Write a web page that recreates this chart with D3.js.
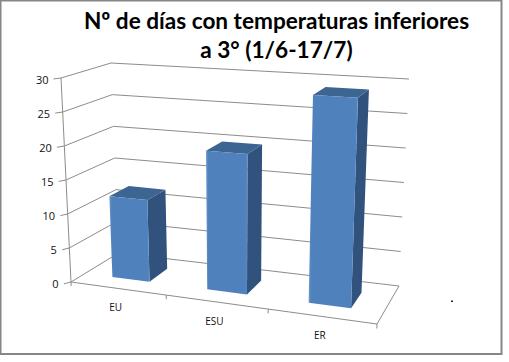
<!doctype html>
<html lang="es">
<head>
<meta charset="utf-8">
<title>Nº de días</title>
<script src="https://d3js.org/d3.v7.min.js"></script>
<style>
    html, body { margin: 0; padding: 0; background: #fff; }
    svg { display: block; }
</style>
</head>
<body>
<svg id="chart"></svg>
<script>
    // data
    const titleLines = ["Nº de días con temperaturas inferiores", "a 3° (1/6-17/7)"];
    const categories = ["EU", "ESU", "ER"];
    const values = [12, 20, 29];
    const valueTicks = [0, 5, 10, 15, 20, 25, 30];

    const wtot = 509, htot = 362;
    const svg = d3.select("#chart").attr("width", wtot).attr("height", htot);

    // corners of the 3d box on screen: front-left, front-right, back-right, back-left
    const floorQuad = [[71, 282], [377, 324], [399, 286], [118.5, 253]];
    const roofQuad = [[61, 78], [385.7, 98.5], [409, 79], [111, 63]];

    // unit square -> quad, the u warp fakes the perspective along the category axis
    function quadMap(q) {
        return (u, v) => {
            const w = 0.9 * u + 0.1 * u * u;
            return [0, 1].map(k => {
                const front = q[0][k] + (q[1][k] - q[0][k]) * w;
                const back = q[3][k] + (q[2][k] - q[3][k]) * w;
                return front + (back - front) * v;
            });
        };
    }
    const floorH = quadMap(floorQuad);
    const roofH = quadMap(roofQuad);

    const yScale = d3.scaleLinear().domain([0, 30]).range([0, 1]);
    const xScale = d3.scaleBand().domain(categories).range([0, 1]).paddingInner(0.6).paddingOuter(0.3);
    const depthFront = 0.3, depthBack = 0.72;

    // u along the categories, v into the depth, val on the value axis
    function project(u, v, val) {
        const t = yScale(val);
        const a = floorH(u, v), b = roofH(u, v);
        return [a[0] + (b[0] - a[0]) * t, a[1] + (b[1] - a[1]) * t];
    }
    const line = d3.line();
    const gridColor = "#8c8c8c";

    // frame
    svg.append("rect")
        .attr("x", 0.5).attr("y", 0.5)
        .attr("width", 501).attr("height", 353.5)
        .attr("fill", "#fff").attr("stroke", "#868686").attr("stroke-width", 2);

    // gridlines on side wall and back wall
    const grid = svg.append("g").attr("fill", "none").attr("stroke", gridColor).attr("stroke-width", 1);
    grid.selectAll("path.wall")
        .data(valueTicks)
        .enter()
        .append("path")
        .attr("class", "wall")
        .attr("d", d => line([project(-0.012, -0.08, d), project(0, 0, d), project(0, 1, d), project(1, 1, d)]));

    // axis lines and floor edges
    grid.append("path").attr("d", line([project(0, 0, 0), project(0, 0, 30)]));
    grid.append("path").attr("d", line([project(0, 0, 0), project(1, 0, 0), project(1, 1, 0)]));
    grid.selectAll("path.xtick")
        .data(d3.range(categories.length + 1))
        .enter()
        .append("path")
        .attr("class", "xtick")
        .attr("d", i => {
            const u = i / categories.length;
            return line([project(u, 0, 0), project(u, 0, -0.6)]);
        });

    // value labels
    svg.append("g").selectAll("text")
        .data(valueTicks)
        .enter()
        .append("text")
        .attr("x", d => project(0, 0, d)[0] - 12.5)
        .attr("y", d => project(0, 0, d)[1] + 1)
        .attr("text-anchor", "end")
        .attr("dominant-baseline", "central")
        .style("font-family", "Open Sans")
        .style("font-size", "11px")
        .attr("fill", "#111")
        .text(d => d);

    // category labels
    svg.append("g").selectAll("text")
        .data(categories)
        .enter()
        .append("text")
        .attr("x", d => project(xScale(d) + xScale.bandwidth() / 2, 0, 0)[0] - 2)
        .attr("y", d => project(xScale(d) + xScale.bandwidth() / 2, 0, 0)[1] + 19)
        .attr("text-anchor", "middle")
        .attr("dominant-baseline", "central")
        .style("font-family", "Open Sans")
        .style("font-size", "10px")
        .attr("fill", "#111")
        .text(d => d);

    // bars
    const defs = svg.append("defs");
    const grad = defs.append("linearGradient").attr("id", "frontFill");
    grad.append("stop").attr("offset", "0%").attr("stop-color", "#6d98cc");
    grad.append("stop").attr("offset", "6%").attr("stop-color", "#4f81bd");
    grad.append("stop").attr("offset", "94%").attr("stop-color", "#4f81bd");
    grad.append("stop").attr("offset", "100%").attr("stop-color", "#5a89c2");

    const bars = svg.append("g").selectAll("g")
        .data(categories.map((c, i) => ({ c: c, val: values[i] })))
        .enter()
        .append("g");

    bars.append("path") // side
        .attr("fill", "#31527c")
        .attr("d", d => {
            const u1 = xScale(d.c) + xScale.bandwidth();
            return line([project(u1, depthFront, 0), project(u1, depthBack, 0),
                project(u1, depthBack, d.val), project(u1, depthFront, d.val)]) + "Z";
        });
    bars.append("path") // top
        .attr("fill", "#3d6592")
        .attr("d", d => {
            const u0 = xScale(d.c), u1 = u0 + xScale.bandwidth();
            return line([project(u0, depthFront, d.val), project(u1, depthFront, d.val),
                project(u1, depthBack, d.val), project(u0, depthBack, d.val)]) + "Z";
        });
    bars.append("path") // front
        .attr("fill", "url(#frontFill)")
        .attr("d", d => {
            const u0 = xScale(d.c), u1 = u0 + xScale.bandwidth();
            return line([project(u0, depthFront, 0), project(u1, depthFront, 0),
                project(u1, depthFront, d.val), project(u0, depthFront, d.val)]) + "Z";
        });

    // title
    svg.append("g").selectAll("text")
        .data(titleLines)
        .enter()
        .append("text")
        .attr("x", 276.5)
        .attr("y", (d, i) => 29 + i * 29)
        .attr("text-anchor", "middle")
        .style("font-family", "Lato")
        .style("font-weight", "700")
        .style("font-size", "22.6px")
        .attr("fill", "#000")
        .text(d => d);

    // stray dot right of the plot
    svg.append("rect")
        .attr("x", 451).attr("y", 300.5)
        .attr("width", 2).attr("height", 1.5)
        .attr("fill", "#222");
</script>
</body>
</html>
